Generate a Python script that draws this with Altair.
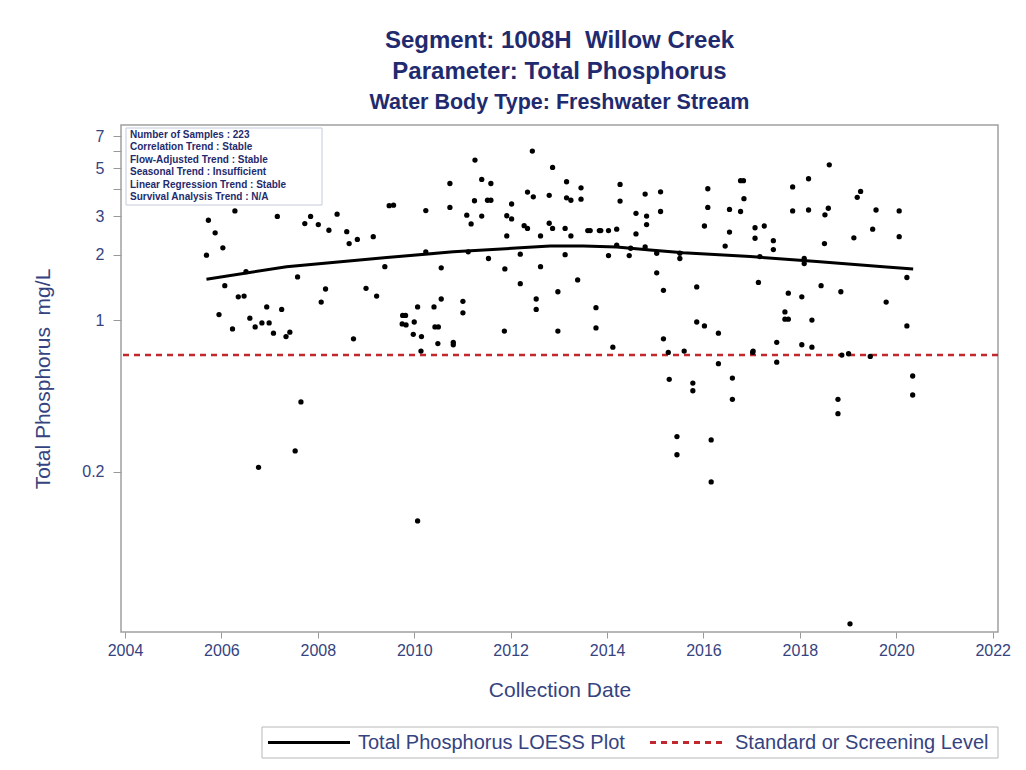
import altair as alt
import pandas as pd

# ---------------- data ----------------
sample_years = [
    2005.73, 2005.87, 2006.03, 2005.69, 2006.28, 2007.16, 2007.73, 2007.85, 2008.01, 2008.23,
    2008.40, 2008.60, 2008.65, 2008.82, 2009.15, 2009.48, 2009.57, 2009.39, 2010.24, 2010.24,
    2010.74, 2010.74, 2010.56, 2011.26, 2011.40, 2011.59, 2011.25, 2011.52, 2011.59, 2011.40,
    2011.09, 2011.18, 2011.12, 2011.54, 2011.88, 2011.92, 2012.02, 2012.02, 2011.92, 2012.20,
    2012.45, 2012.87, 2012.35, 2012.47, 2012.80, 2012.28, 2012.35, 2012.62, 2012.80, 2012.87,
    2013.13, 2013.16, 2013.16, 2013.13, 2012.62, 2012.20,
    2007.58, 2006.51, 2006.07, 2006.35, 2006.47, 2005.95, 2006.23, 2006.59, 2006.70, 2006.84,
    2006.94, 2006.99, 2007.08, 2007.25, 2007.34, 2007.42, 2008.07, 2008.16, 2008.74, 2009.00,
    2009.22, 2009.76, 2009.82, 2009.75, 2009.83, 2010.00, 2010.07, 2009.98, 2010.15, 2010.14,
    2010.41, 2010.43, 2010.50, 2010.49, 2010.56, 2010.81, 2010.81, 2011.01, 2011.01, 2011.87,
    2012.53, 2012.53, 2012.98, 2012.98,
    2007.65, 2007.53, 2006.77, 2010.07,
    2013.25, 2013.25, 2013.39, 2013.46, 2013.46, 2013.60, 2013.65, 2013.84, 2013.87, 2014.03,
    2014.20, 2013.77, 2013.77, 2014.03, 2014.20, 2014.27, 2014.27, 2014.46, 2014.49, 2014.60,
    2014.60, 2014.79, 2014.82, 2014.82, 2014.79, 2015.03, 2015.03, 2015.11, 2015.11, 2015.17,
    2015.51, 2015.51, 2015.86, 2016.02, 2016.09, 2016.09, 2016.45, 2016.54, 2016.54, 2016.77,
    2016.83, 2016.77, 2016.84, 2017.07, 2017.07, 2017.26, 2017.14, 2017.17, 2017.45, 2017.45,
    2017.76, 2017.85, 2017.85, 2018.04, 2018.09, 2018.09, 2018.18, 2018.18, 2018.44, 2018.51,
    2018.52, 2018.59, 2018.61, 2018.85, 2019.12, 2019.19, 2019.26, 2019.51, 2019.58, 2019.79,
    2020.06, 2020.06, 2020.22, 2020.22,
    2014.12, 2015.17, 2015.27, 2015.60, 2015.86, 2016.02, 2016.31, 2016.31, 2017.02, 2017.03,
    2017.52, 2017.52, 2017.69, 2017.69, 2017.76, 2018.04, 2018.25, 2018.25, 2018.87, 2019.01,
    2019.46,
    2015.29, 2015.78, 2015.78, 2016.60, 2016.60, 2018.79, 2018.79, 2020.34, 2020.34, 2015.45,
    2015.45, 2016.16, 2016.16, 2019.04,
]
sample_values = [
    2.88, 2.52, 2.15, 1.99, 3.18, 3.00, 2.78, 3.00, 2.75, 2.59,
    3.07, 2.55, 2.25, 2.35, 2.42, 3.36, 3.38, 1.76, 3.19, 2.06,
    4.25, 3.30, 1.74, 5.45, 4.44, 4.25, 3.54, 3.56, 3.56, 3.01,
    3.04, 2.77, 2.06, 1.92, 1.72, 3.02, 2.92, 3.42, 2.44, 2.01,
    5.99, 5.04, 3.88, 3.69, 3.75, 2.72, 2.64, 2.44, 2.79, 2.64,
    2.64, 4.33, 3.65, 2.00, 1.76, 1.47,
    1.58, 1.67, 1.44, 1.28, 1.29, 1.06, 0.91, 1.02, 0.93, 0.97,
    1.15, 0.97, 0.87, 1.12, 0.84, 0.88, 1.21, 1.39, 0.82, 1.40,
    1.29, 1.05, 1.05, 0.96, 0.95, 0.98, 1.15, 0.86, 0.84, 0.72,
    1.15, 0.93, 0.93, 0.78, 1.25, 0.79, 0.77, 1.22, 1.08, 0.89,
    1.25, 1.12, 1.35, 0.89,
    0.42, 0.25, 0.21, 0.119,
    3.56, 2.44, 1.53, 4.06, 3.60, 2.58, 2.58, 2.58, 2.58, 2.58,
    2.62, 1.14, 0.92, 1.98, 2.21, 4.21, 3.53, 1.98, 2.14, 3.10,
    2.49, 3.80, 3.01, 2.75, 2.17, 2.03, 1.65, 3.89, 3.16, 1.37,
    2.03, 1.92, 1.42, 2.71, 4.02, 3.30, 2.19, 3.23, 2.54, 4.38,
    4.38, 3.16, 3.62, 2.66, 2.38, 2.71, 1.49, 1.96, 2.32, 2.11,
    1.33, 4.10, 3.18, 1.28, 1.92, 1.82, 4.47, 3.21, 1.44, 2.25,
    3.05, 3.27, 5.18, 1.35, 2.39, 3.67, 3.91, 2.62, 3.21, 1.21,
    3.18, 2.42, 1.57, 0.94,
    0.75, 0.82, 0.71, 0.72, 0.98, 0.94, 0.87, 0.63, 0.71, 0.72,
    0.79, 0.64, 1.09, 1.01, 1.01, 0.77, 1.00, 0.75, 0.69, 0.70,
    0.68,
    0.534, 0.513, 0.473, 0.541, 0.432, 0.432, 0.371, 0.553, 0.452, 0.291,
    0.240, 0.281, 0.180, 0.040,
]

loess_years = [2005.69, 2007.35, 2009.43, 2010.81, 2012.20, 2012.82, 2013.51, 2014.20,
               2014.89, 2015.58, 2016.97, 2018.35, 2019.73, 2020.35]
loess_values = [1.54, 1.76, 1.94, 2.06, 2.15, 2.19, 2.19, 2.17,
                2.10, 2.04, 1.96, 1.86, 1.76, 1.72]

screening_level = [0.69]

series_names = ["Total Phosphorus LOESS Plot", "Standard or Screening Level"]
series_colors = ["#000000", "#c1272d"]

x_ticks = [2004, 2006, 2008, 2010, 2012, 2014, 2016, 2018, 2020, 2022]
y_ticks = [0.2, 1, 2, 3, 4, 5, 6, 7]

info_lines = [
    "Number of Samples : 223",
    "Correlation Trend : Stable",
    "Flow-Adjusted Trend : Stable",
    "Seasonal Trend : Insufficient",
    "Linear Regression Trend : Stable",
    "Survival Analysis Trend : N/A",
]

# ---------------- tables ----------------
samples = pd.DataFrame({"year": sample_years, "value": sample_values})
loess = pd.DataFrame({"year": loess_years, "value": loess_values})
level = pd.DataFrame({"value": screening_level})
one = pd.DataFrame({"k": [0]})

FONT = "Liberation Sans"
NAVY = "#1f2b6e"
AXIS_NAVY = "#35437f"
DASH = [6, 5]

x_scale = alt.Scale(domain=[2003.917, 2022.11], nice=False, zero=False)
y_scale = alt.Scale(type="log", domain=[0.0367, 7.9], nice=False)

x_enc = alt.X("year:Q", scale=x_scale,
              axis=alt.Axis(values=x_ticks, format="d", title="Collection Date",
                            titlePadding=21, tickSize=6, labelPadding=4))
y_enc = alt.Y("value:Q", scale=y_scale,
              axis=alt.Axis(values=y_ticks, title="Total Phosphorus\u00a0 mg/L",
                            labelExpr="datum.value == 4 || datum.value == 6 ? '' : format(datum.value, '~g')",
                            titlePadding=28, tickSize=8, labelPadding=9))

# info box (annotation, top-left of the plot)
box = alt.Chart(one).mark_rect(fill="white", stroke="#c5c9dc", strokeWidth=1).encode(
    x=alt.value(5), x2=alt.value(201), y=alt.value(3), y2=alt.value(80)
)
info = alt.Chart(one).mark_text(
    align="left", baseline="top", font=FONT, fontSize=10, fontWeight="bold",
    color=NAVY, lineHeight=12.4
).encode(x=alt.value(9), y=alt.value(5), text=alt.value(info_lines))

# data layers
rule = alt.Chart(level).mark_rule(strokeWidth=2.5, color=series_colors[1], strokeDash=DASH).encode(
    y=alt.Y("value:Q", scale=y_scale)
)
points = alt.Chart(samples).mark_circle(size=28, opacity=1, color="black").encode(
    x=x_enc, y=y_enc
)
line = alt.Chart(loess).mark_line(strokeWidth=3, color=series_colors[0]).encode(
    x=alt.X("year:Q", scale=x_scale),
    y=alt.Y("value:Q", scale=y_scale),
    order=alt.Order("year:Q"),
)

# legend box below the plot
leg_box = alt.Chart(one).mark_rect(fill="white", stroke="#b8b8b8", strokeWidth=1).encode(
    x=alt.value(141), x2=alt.value(877), y=alt.value(602), y2=alt.value(633)
)
leg_line1 = alt.Chart(one).mark_rule(strokeWidth=3, color=series_colors[0]).encode(
    x=alt.value(147), x2=alt.value(229), y=alt.value(617.5)
)
leg_text1 = alt.Chart(one).mark_text(
    align="left", baseline="middle", font=FONT, fontSize=20, color=AXIS_NAVY
).encode(x=alt.value(237), y=alt.value(618), text=alt.value(series_names[0]))
leg_line2 = alt.Chart(one).mark_rule(strokeWidth=3, color=series_colors[1], strokeDash=DASH).encode(
    x=alt.value(529), x2=alt.value(604), y=alt.value(617.5)
)
leg_text2 = alt.Chart(one).mark_text(
    align="left", baseline="middle", font=FONT, fontSize=20, color=AXIS_NAVY
).encode(x=alt.value(614), y=alt.value(618), text=alt.value(series_names[1]))

chart = alt.layer(
    box, rule, points, line, info, leg_box, leg_line1, leg_text1, leg_line2, leg_text2
).properties(
    width=877,
    height=507,
    autosize=alt.AutoSizeParams(type="none"),
    padding={"left": 113, "top": 117, "right": 15, "bottom": 130},
    title=alt.TitleParams(
        text=["Segment: 1008H\u00a0 Willow Creek", "Parameter: Total Phosphorus"],
        subtitle="Water Body Type: Freshwater Stream",
        font=FONT, fontSize=24, fontWeight="bold", color=NAVY,
        subtitleFont=FONT, subtitleFontSize=21.5, subtitleFontWeight="bold",
        subtitleColor=NAVY, anchor="middle", lineHeight=31, subtitlePadding=8,
        offset=12,
    ),
).configure_view(
    stroke="#a0a0a0", strokeWidth=1.5
).configure_axis(
    grid=False, domain=False, labelFont=FONT, labelFontSize=16, labelColor=AXIS_NAVY,
    titleFont=FONT, titleFontSize=21, titleFontWeight="normal", titleColor=AXIS_NAVY,
    tickColor="#999999",
)

chart.save("out.html", embed_options={"renderer": "svg", "actions": False})
